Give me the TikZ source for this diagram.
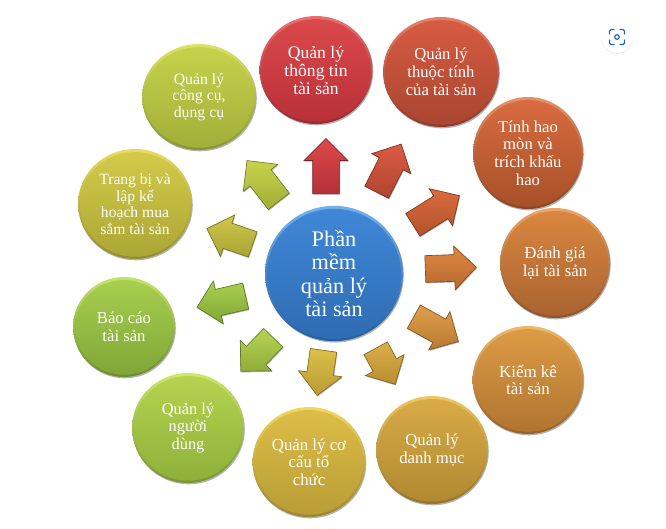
\documentclass[tikz,border=0pt]{standalone}
\usepackage{fontspec}
\setmainfont{Liberation Serif}
\usetikzlibrary{shapes.geometric,shapes.arrows,shadows,calc}
\tikzset{
  x=0.75pt,y=-0.75pt,
  ball/.style={ellipse,inner sep=0pt,align=center,text=white,
    drop shadow={shadow xshift=0.6pt,shadow yshift=-1pt,opacity=0.3,fill=black}},
  blockarrow/.style={single arrow,anchor=tail,inner sep=0pt,
    single arrow head extend=6.4pt,single arrow tip angle=90,
    line width=0.5pt,
    drop shadow={shadow xshift=0.5pt,shadow yshift=-0.8pt,opacity=0.3,fill=black}},
}
% [font size pair], name, centre, rx, ry, rim top, top, bottom, text
\newcommand{\ballnode}[9][{12.5}{13.3}]{%
  \definecolor{rimc}{HTML}{#6}\definecolor{topc}{HTML}{#7}\definecolor{botc}{HTML}{#8}%
  \node[ball,font=\fontsize#1\selectfont,minimum width=#4*1.5pt,minimum height=#5*1.5pt,top color=rimc,bottom color=botc!85!black,
    path picture={\shade[top color=topc,bottom color=botc] ($(path picture bounding box.center)+(0,0.4)$)
       ellipse ({#4*0.75pt-1.6pt} and {#5*0.75pt-2pt});}] (#2) at (#3) {#9};}
% name, base x, base y, angle, length, top colour, bottom colour
\newcommand{\arrownode}[7]{%
  \definecolor{atop}{HTML}{#6}\definecolor{abot}{HTML}{#7}%
  \node[blockarrow,at={(#2,#3)},rotate=#4,minimum height=#5*0.75pt,top color=atop,bottom color=abot,draw=abot!70!black] (#1) {\rule{0pt}{19.5pt}};}
\definecolor{hubrim}{HTML}{74B0EE}
\definecolor{hubtop}{HTML}{4088D8}
\definecolor{hubbot}{HTML}{2E6CB2}
\definecolor{hubedge}{HTML}{24609F}
\definecolor{scanblue}{HTML}{1A66C8}
\begin{document}
\begin{tikzpicture}
\useasboundingbox (0,0) rectangle (666,528);
\fill[white] (0,0) rectangle (666,528);
% arrows
\arrownode{a1}{326}{194}{90}{55}{DD4A4A}{B5303A}
\arrownode{a2}{376.5}{192.5}{63}{54}{DB5C42}{AE4430}
\arrownode{a3}{412.5}{225}{32}{55}{DC6B3E}{B0532B}
\arrownode{a4}{425}{269}{2}{51}{DE8840}{B86830}
\arrownode{a5}{413.5}{316.5}{-29}{51}{E09F48}{B87A32}
\arrownode{a6}{375.5}{348}{-61.5}{41}{DDB048}{B88C32}
\arrownode{a7}{323.5}{350}{-98}{45.5}{DCC048}{B89C35}
\arrownode{a8}{273.5}{337.5}{-134}{46.7}{B6D452}{8FAE3A}
\arrownode{a9}{246}{296}{-167}{50}{AACF50}{80A735}
\arrownode{a10}{253}{244.5}{161}{48.5}{D0C84A}{A9A435}
\arrownode{a11}{279}{201.5}{128}{51.6}{C8D34C}{A0AE38}
% circles
\ballnode[{13.2}{13.5}]{n1}{316,70}{56.5}{54}{E87070}{DB4A4C}{B83038}{Quản lý\\thông tin\\tài sản}
\ballnode[{12.5}{13.5}]{n2}{441,72}{58}{55}{E48068}{D95C42}{A84530}{Quản lý\\thuộc tính\\của tài sản}
\ballnode{n3}{528,153}{55}{56}{E69068}{DA6C40}{A65028}{Tính hao\\mòn và\\trích khấu\\hao}
\ballnode[{12.6}{13.3}]{n4}{555,263}{55}{55}{EBA468}{DB8840}{A86230}{Đánh giá\\lại tài sản}
\ballnode[{12.7}{13.3}]{n5}{528,380}{55.5}{54}{EEB86C}{DD9C46}{B07430}{Kiểm kê\\tài sản}
\ballnode{n6}{432,450}{56}{54}{EEC860}{DAAC48}{AF8830}{Quản lý\\danh mục}
\ballnode[{12.6}{13.3}]{n7}{309,462}{56.5}{55}{F0D860}{DEBE48}{B89C35}{Quản lý cơ\\cấu tổ\\chức}
\ballnode[{12.3}{13.3}]{n8}{188,428}{56}{55}{CEE868}{B6D450}{8DB03A}{Quản lý\\người\\dùng}
\ballnode{n9}{124,327}{51}{50}{C4E468}{A9D050}{7FA635}{Báo cáo\\tài sản}
\ballnode[{11.7}{12.4}]{n10}{135,204}{57}{55}{E8DC60}{D4CB4A}{ABA635}{Trang bị và\\lập kế\\hoạch mua\\sắm tài sản}
\ballnode[{11.8}{12.5}]{n11}{199,97}{57}{53}{DCE464}{C8D34C}{A0AE38}{Quản lý\\công cụ,\\dụng cụ}
\node[ball,minimum width=103.5pt,minimum height=101.5pt,top color=hubrim,bottom color=hubedge,font=\fontsize{16.7}{17.5}\selectfont,
  path picture={\shade[top color=hubtop,bottom color=hubbot] ($(path picture bounding box.center)+(0,0.4)$) ellipse (50.2pt and 48.8pt);}]
  (hub) at (334,273.5) {Phần\\mềm\\quản lý\\tài sản};
% screenshot badge
\node[circle,fill=white,minimum size=24pt,inner sep=0pt,drop shadow={shadow xshift=0pt,shadow yshift=-0.5pt,opacity=0.12,fill=black}] (badge) at (617,37) {};
\node[circle,draw=scanblue,line width=0.9pt,minimum size=3.4pt,inner sep=0pt] (lens) at (badge) {};
\draw[scanblue,line width=0.9pt,line cap=round,rounded corners=1.2pt]
  ($(badge)+(-7.5,-3)$) -- ($(badge)+(-7.5,-7.5)$) -- ($(badge)+(-3,-7.5)$)
  ($(badge)+(3,-7.5)$) -- ($(badge)+(7.5,-7.5)$) -- ($(badge)+(7.5,-3)$)
  ($(badge)+(7.5,3)$) -- ($(badge)+(7.5,7.5)$) -- ($(badge)+(3,7.5)$)
  ($(badge)+(-3,7.5)$) -- ($(badge)+(-7.5,7.5)$) -- ($(badge)+(-7.5,3)$);
\end{tikzpicture}
\end{document}
